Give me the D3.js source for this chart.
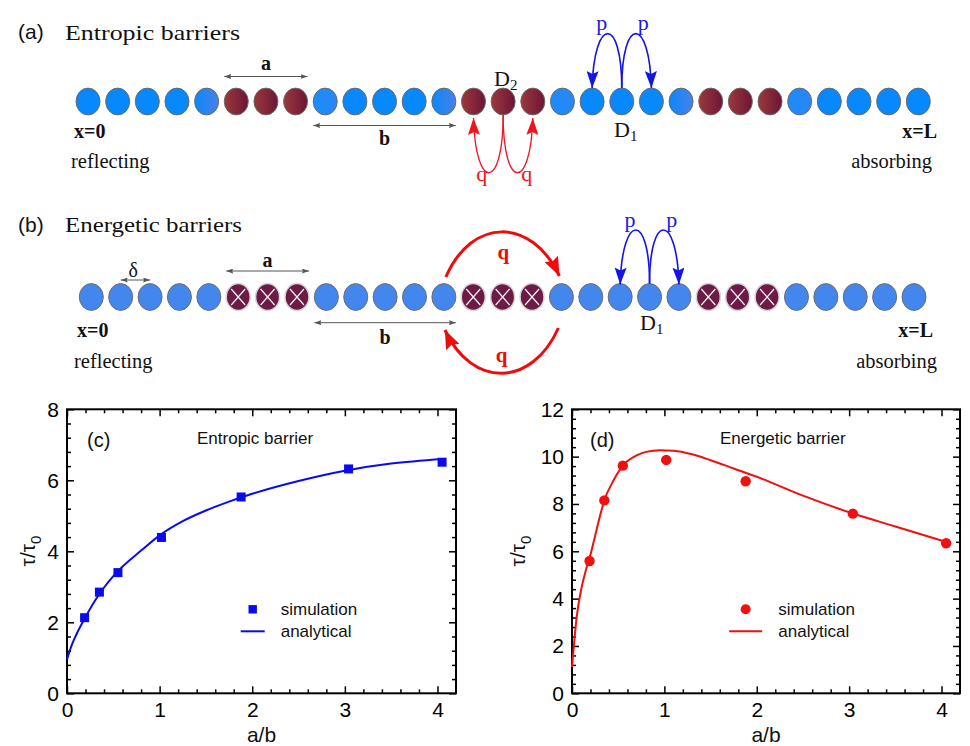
<!DOCTYPE html>
<html>
<head>
<meta charset="utf-8">
<script src="https://cdn.jsdelivr.net/npm/d3@7"></script>
<style>
  body { margin: 0; background: #fff; }
  svg { display: block; }
</style>
</head>
<body>
<svg id="fig" width="970" height="746"></svg>
<script>
// ---- data ----
// lattice of 29 sites, barriers a = 3 sites wide, free stretch b = 5 sites
const nSites = 29;
const barrierSites = [5, 6, 7, 13, 14, 15, 21, 22, 23];
const d2Site = 14, d1SiteA = 18, d1SiteB = 19;

// simulation points (a/b, tau/tau0)
const abSim = [0.19, 0.35, 0.55, 1.02, 1.88, 3.04, 4.05];
const tauEntropicSim = [2.13, 2.85, 3.40, 4.39, 5.53, 6.32, 6.51];
const tauEnergeticSim = [5.59, 8.15, 9.62, 9.86, 8.96, 7.59, 6.34];

// analytical curves
const abEntropicCurve = [0, 0.05, 0.1, 0.2, 0.3, 0.4, 0.5, 0.6, 0.8, 1.0, 1.25, 1.5, 1.75, 2.0, 2.5, 3.0, 3.5, 4.06];
const tauEntropicCurve = [0.95, 1.35, 1.65, 2.15, 2.6, 2.98, 3.3, 3.57, 4.02, 4.45, 4.85, 5.15, 5.4, 5.62, 5.98, 6.27, 6.47, 6.6];
const abEnergeticCurve = [0, 0.02, 0.05, 0.1, 0.15, 0.2, 0.25, 0.3, 0.35, 0.45, 0.55, 0.7, 0.8, 0.95, 1.1, 1.3, 1.5, 1.75, 2.0, 2.5, 3.0, 3.5, 4.06];
const tauEnergeticCurve = [1.1, 2.0, 3.2, 4.4, 5.2, 5.85, 6.65, 7.45, 8.15, 9.0, 9.62, 10.05, 10.2, 10.27, 10.25, 10.1, 9.85, 9.5, 9.15, 8.35, 7.65, 7.05, 6.38];

// tick labels
const xTicks = [0, 1, 2, 3, 4];
const yTicksC = [0, 2, 4, 6, 8];
const yTicksD = [0, 2, 4, 6, 8, 10, 12];

const sans = "'Liberation Sans', Arial, sans-serif";
const serif = "'Liberation Serif', 'Times New Roman', serif";

const svg = d3.select("#fig");
const defs = svg.append("defs");

// arrow heads
function addMarker(id, color, len, wid, notch) {
  defs.append("marker").attr("id", id)
    .attr("viewBox", `0 ${-wid / 2} ${len} ${wid}`)
    .attr("refX", len).attr("refY", 0)
    .attr("markerWidth", len).attr("markerHeight", wid)
    .attr("markerUnits", "userSpaceOnUse")
    .attr("orient", "auto-start-reverse")
    .append("path")
    .attr("d", `M0,${-wid / 2}L${len},0L0,${wid / 2}L${notch},0Z`)
    .attr("fill", color);
}
addMarker("headBlue", "#1414e6", 17, 12, 3);
addMarker("headRed", "#f0141e", 17, 12, 3);
addMarker("headRedBig", "#f00a0a", 19, 15, 3);
addMarker("headGray", "#555", 7, 5, 1);

function addGradient(id, c0, c1) {
  const gr = defs.append("linearGradient").attr("id", id);
  gr.append("stop").attr("offset", "0%").attr("stop-color", c0);
  gr.append("stop").attr("offset", "100%").attr("stop-color", c1);
}
addGradient("redGrad", "#9b3a3a", "#6c1438");
addGradient("blueEdge", "#0a88fc", "#4a80e6");
addGradient("blueAfter", "#1a8cfd", "#2b86f2");

const isBarrier = i => barrierSites.includes(i);
const rx = 12, ry = 13.4;

// ---- (a) entropic chain ----
const rowA = 101.5;
const siteA = d3.scaleLinear().domain([0, nSites - 1]).range([88, 918.3]);
const gA = svg.append("g");

gA.selectAll("ellipse").data(d3.range(nSites)).enter().append("ellipse")
  .attr("cx", d => siteA(d)).attr("cy", rowA).attr("rx", rx).attr("ry", ry)
  .attr("fill", d => isBarrier(d) ? "url(#redGrad)"
    : isBarrier(d + 1) ? "url(#blueEdge)"
    : isBarrier(d - 1) ? "url(#blueAfter)" : "#0788fd")
  .attr("stroke", "#6a6a6a").attr("stroke-width", 1);

// ---- (b) energetic chain ----
const rowB = 297;
const siteB = d3.scaleLinear().domain([0, nSites - 1]).range([91.3, 914]);
const gB = svg.append("g");

gB.selectAll("ellipse").data(d3.range(nSites)).enter().append("ellipse")
  .attr("cx", d => siteB(d)).attr("cy", rowB).attr("rx", rx).attr("ry", ry)
  .attr("fill", d => isBarrier(d) ? "#6d1a46" : "#4387ee")
  .attr("stroke", d => isBarrier(d) ? "#d6d6d6" : "#6e6e6e")
  .attr("stroke-width", d => isBarrier(d) ? 1.5 : 1);

gB.selectAll("path.cross").data(barrierSites).enter().append("path")
  .attr("class", "cross")
  .attr("d", d => `M${siteB(d) - 7},${rowB - 8}L${siteB(d) + 7},${rowB + 8}M${siteB(d) - 7},${rowB + 8}L${siteB(d) + 7},${rowB - 8}`)
  .attr("stroke", "#f4f4f4").attr("stroke-width", 1.2);

// gray double arrows for a, b, delta
function dblArrow(x0, x1, y) {
  svg.append("line").attr("x1", x0).attr("x2", x1).attr("y1", y).attr("y2", y)
    .attr("stroke", "#555").attr("stroke-width", 1)
    .attr("marker-start", "url(#headGray)").attr("marker-end", "url(#headGray)");
}
dblArrow(siteA(5) - rx, siteA(7) + rx, rowA - 25);
dblArrow(siteA(8) - rx, siteA(12) + rx, rowA + 24);
dblArrow(siteB(1), siteB(2), rowB - 17);
dblArrow(siteB(5) - rx, siteB(7) + rx, rowB - 26);
dblArrow(siteB(8) - rx, siteB(12) + rx, rowB + 25.7);

// hopping arrows
function hop(x0, y0, x1, y1, cy, cx0, cx1, color, width, head) {
  const p = d3.path();
  p.moveTo(x0, y0);
  p.bezierCurveTo(cx0, cy, cx1, cy, x1, y1);
  svg.append("path").attr("d", p.toString()).attr("fill", "none")
    .attr("stroke", color).attr("stroke-width", width)
    .attr("marker-end", `url(#${head})`);
}
// (a) p hops from D1
hop(siteA(d1SiteA), rowA - ry, siteA(d1SiteA - 1), rowA - ry, rowA - 86,
  siteA(d1SiteA), siteA(d1SiteA - 1) + 2, "#1414e6", 1.6, "headBlue");
hop(siteA(d1SiteA), rowA - ry, siteA(d1SiteA + 1), rowA - ry, rowA - 86,
  siteA(d1SiteA), siteA(d1SiteA + 1) - 2, "#1414e6", 1.6, "headBlue");
// (a) q hops from D2
hop(siteA(d2Site), rowA + ry, siteA(d2Site - 1), rowA + ry + 3, rowA + 90,
  siteA(d2Site), siteA(d2Site - 1) + 2, "#f0141e", 1.3, "headRed");
hop(siteA(d2Site), rowA + ry, siteA(d2Site + 1), rowA + ry + 3, rowA + 90,
  siteA(d2Site), siteA(d2Site + 1) - 2, "#f0141e", 1.3, "headRed");
// (b) p hops from D1
hop(siteB(d1SiteB), rowB - ry, siteB(d1SiteB - 1), rowB - ry + 1, rowB - 85,
  siteB(d1SiteB), siteB(d1SiteB - 1) + 2, "#1414e6", 1.6, "headBlue");
hop(siteB(d1SiteB), rowB - ry, siteB(d1SiteB + 1), rowB - ry + 1, rowB - 85,
  siteB(d1SiteB), siteB(d1SiteB + 1) - 2, "#1414e6", 1.6, "headBlue");
// (b) q jumps over the energetic barrier
hop(siteB(12) + 2, rowB - 20, siteB(16) - 2, rowB - 21, rowB - 80,
  siteB(12) + 28, siteB(16) - 30, "#f00a0a", 3, "headRedBig");
hop(siteB(16) - 3, rowB + 31, siteB(12) + 1, rowB + 33, rowB + 91,
  siteB(16) - 30, siteB(12) + 28, "#f00a0a", 3, "headRedBig");

// ---- diagram text ----
function txt(x, y, s, o = {}) {
  return svg.append("text").attr("x", x).attr("y", y).text(s)
    .attr("font-family", o.family || serif).attr("font-size", o.size || 20)
    .attr("font-weight", o.weight || "normal").attr("fill", o.color || "#111")
    .attr("text-anchor", o.anchor || "start");
}
function dLabel(x, y, sub) {
  const t = svg.append("text").attr("x", x).attr("y", y)
    .attr("font-family", serif).attr("font-size", 22).attr("fill", "#111");
  t.append("tspan").text("D");
  t.append("tspan").attr("dy", 4).attr("font-size", 15).text(sub);
}

txt(18, 39, "(a)", { family: sans, size: 21 });
txt(65, 40, "Entropic barriers", { size: 22 }).attr("textLength", 175).attr("lengthAdjust", "spacingAndGlyphs");
txt((siteA(5) + siteA(7)) / 2, 70, "a", { weight: "bold" }).attr("text-anchor", "middle");
txt(74, 138, "x=0", { weight: "bold" });
txt(71, 168, "reflecting", { size: 20.5 });
txt((siteA(8) + siteA(12)) / 2, 145, "b", { weight: "bold", anchor: "middle" });
dLabel(494, 86, "2");
dLabel(614, 137, "1");
txt(601.7, 30, "p", { size: 22, color: "#1a1ae6", anchor: "middle" });
txt(643.3, 30, "p", { size: 22, color: "#1a1ae6", anchor: "middle" });
txt(481.7, 180.5, "q", { size: 22, color: "#f0141e", anchor: "middle" });
txt(526.7, 180.5, "q", { size: 22, color: "#f0141e", anchor: "middle" });
txt(937, 138, "x=L", { weight: "bold", anchor: "end" });
txt(932, 168, "absorbing", { size: 20.5, anchor: "end" });

txt(18, 232, "(b)", { family: sans, size: 21 });
txt(65, 232, "Energetic barriers", { size: 22 }).attr("textLength", 177).attr("lengthAdjust", "spacingAndGlyphs");
txt(133.3, 276.5, "δ", { size: 20, anchor: "middle" });
txt((siteB(5) + siteB(7)) / 2, 266.5, "a", { weight: "bold", anchor: "middle" });
txt(77, 336.5, "x=0", { weight: "bold" });
txt(74, 368, "reflecting", { size: 20.5 });
txt((siteB(8) + siteB(12)) / 2, 344, "b", { weight: "bold", anchor: "middle" });
txt(503.3, 258.5, "q", { size: 21, weight: "bold", color: "#f00a0a", anchor: "middle" });
txt(501.7, 361.5, "q", { size: 21, weight: "bold", color: "#f00a0a", anchor: "middle" });
txt(630, 227, "p", { size: 22, color: "#1a1ae6", anchor: "middle" });
txt(671.7, 227, "p", { size: 22, color: "#1a1ae6", anchor: "middle" });
dLabel(640, 330, "1");
txt(933, 336.5, "x=L", { weight: "bold", anchor: "end" });
txt(937, 368, "absorbing", { size: 20.5, anchor: "end" });

// ---- plots (c) and (d) ----
function addAxis(g, axis, transform) {
  const a = g.append("g").attr("transform", transform).call(axis)
    .attr("font-family", sans).attr("font-size", 21);
  a.select(".domain").remove();
  a.selectAll(".tick line").attr("stroke", "#000").attr("stroke-width", 1.5);
  a.selectAll(".tick text").attr("fill", "#000");
  return a;
}

function drawPlot(cfg) {
  const x = d3.scaleLinear().domain([0, 4.2]).range([cfg.left, cfg.right]);
  const y = d3.scaleLinear().domain([0, cfg.yMax]).range([cfg.bottom, cfg.top]);
  const g = svg.append("g");
  const xMinor = d3.range(0, 21).filter(i => i % 5).map(i => i / 5);
  const yMinor = d3.range(0, Math.round(cfg.yMax / 0.4) + 1).filter(i => i % 5).map(i => i * 0.4);
  const fmt = d3.format("d");

  addAxis(g, d3.axisBottom(x).tickValues(xTicks).tickFormat(fmt).tickSize(-7).tickPadding(9), `translate(0,${cfg.bottom})`);
  addAxis(g, d3.axisBottom(x).tickValues(xMinor).tickSize(-4).tickFormat(""), `translate(0,${cfg.bottom})`);
  addAxis(g, d3.axisTop(x).tickValues(xTicks).tickSize(-7).tickFormat(""), `translate(0,${cfg.top})`);
  addAxis(g, d3.axisTop(x).tickValues(xMinor).tickSize(-4).tickFormat(""), `translate(0,${cfg.top})`);
  addAxis(g, d3.axisLeft(y).tickValues(cfg.yTicks).tickFormat(fmt).tickSize(-7).tickPadding(8), `translate(${cfg.left},0)`);
  addAxis(g, d3.axisLeft(y).tickValues(yMinor).tickSize(-4).tickFormat(""), `translate(${cfg.left},0)`);
  addAxis(g, d3.axisRight(y).tickValues(cfg.yTicks).tickSize(-7).tickFormat(""), `translate(${cfg.right},0)`);
  addAxis(g, d3.axisRight(y).tickValues(yMinor).tickSize(-4).tickFormat(""), `translate(${cfg.right},0)`);

  g.append("rect").attr("x", cfg.left).attr("y", cfg.top)
    .attr("width", cfg.right - cfg.left).attr("height", cfg.bottom - cfg.top)
    .attr("fill", "none").attr("stroke", "#000").attr("stroke-width", 2);

  const line = d3.line().x(d => x(d[0])).y(d => y(d[1])).curve(d3.curveMonotoneX);
  g.append("path").datum(d3.zip(cfg.curveX, cfg.curveY))
    .attr("d", line).attr("fill", "none").attr("stroke", cfg.color).attr("stroke-width", 2);

  const pts = d3.zip(abSim, cfg.sim);
  if (cfg.marker === "square") {
    g.selectAll("rect.pt").data(pts).enter().append("rect").attr("class", "pt")
      .attr("x", d => x(d[0]) - 4.5).attr("y", d => y(d[1]) - 4.5)
      .attr("width", 9).attr("height", 9).attr("fill", cfg.color);
  } else {
    g.selectAll("circle.pt").data(pts).enter().append("circle").attr("class", "pt")
      .attr("cx", d => x(d[0])).attr("cy", d => y(d[1])).attr("r", 5.2).attr("fill", cfg.color);
  }

  // legend
  const lx = cfg.left + cfg.legendDx, ly = 609.3;
  if (cfg.marker === "square") {
    g.append("rect").attr("x", lx - 4.2).attr("y", ly - 4.2).attr("width", 8.4).attr("height", 8.4).attr("fill", cfg.color);
  } else {
    g.append("circle").attr("cx", lx).attr("cy", ly).attr("r", 5).attr("fill", cfg.color);
  }
  g.append("line").attr("x1", lx - cfg.lineHalf).attr("x2", lx + cfg.lineHalf)
    .attr("y1", ly + 22).attr("y2", ly + 22).attr("stroke", cfg.color).attr("stroke-width", 2);
  const legText = (yy, s) => g.append("text").attr("x", lx + cfg.textDx).attr("y", yy).text(s)
    .attr("font-family", sans).attr("font-size", 17).attr("fill", "#111");
  legText(ly + 6, "simulation");
  legText(ly + 28, "analytical");

  g.append("text").attr("x", cfg.left + cfg.tagDx).attr("y", 447).text(cfg.tag)
    .attr("font-family", sans).attr("font-size", 20).attr("fill", "#111");
  g.append("text").attr("x", cfg.left + cfg.titleDx).attr("y", 444).text(cfg.title)
    .attr("font-family", sans).attr("font-size", 17).attr("fill", "#111");

  g.append("text").attr("x", (cfg.left + cfg.right) / 2).attr("y", 742).text("a/b")
    .attr("text-anchor", "middle").attr("font-family", sans).attr("font-size", 21).attr("fill", "#111");

  const yl = g.append("text")
    .attr("transform", `translate(${cfg.left - cfg.ylabDx},551) rotate(-90)`)
    .attr("text-anchor", "middle").attr("font-family", sans).attr("font-size", 21).attr("fill", "#111");
  yl.append("tspan").text("τ/τ");
  yl.append("tspan").attr("dy", 6).attr("font-size", 15).text("0");
}

drawPlot({
  left: 67, right: 456, top: 409.3, bottom: 693.3, yMax: 8, yTicks: yTicksC,
  curveX: abEntropicCurve, curveY: tauEntropicCurve, sim: tauEntropicSim,
  color: "#0a0aee", marker: "square", legendDx: 185.7, lineHalf: 12, textDx: 28,
  tag: "(c)", tagDx: 20, title: "Entropic barrier", titleDx: 130, ylabDx: 32
});
drawPlot({
  left: 572, right: 960, top: 409.3, bottom: 693.3, yMax: 12, yTicks: yTicksD,
  curveX: abEnergeticCurve, curveY: tauEnergeticCurve, sim: tauEnergeticSim,
  color: "#f01010", marker: "circle", legendDx: 173.7, lineHalf: 16.5, textDx: 32.6,
  tag: "(d)", tagDx: 18, title: "Energetic barrier", titleDx: 148, ylabDx: 47
});
</script>
</body>
</html>
